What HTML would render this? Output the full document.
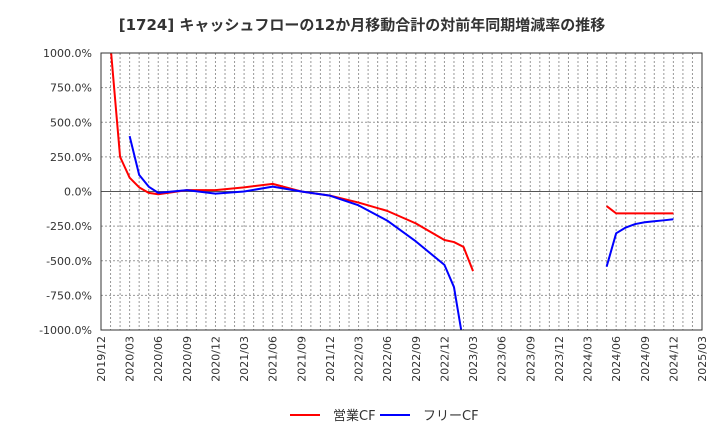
<!DOCTYPE html>
<html><head><meta charset="utf-8"><style>
body{margin:0;background:#fff;font-family:"DejaVu Sans","Noto Sans CJK JP",sans-serif;}
</style></head><body>
<svg width="720" height="440" xmlns="http://www.w3.org/2000/svg" font-family="DejaVu Sans, Noto Sans CJK JP, sans-serif">
<text x="362" y="30" text-anchor="middle" font-size="15" font-weight="bold" fill="#333">[1724]  キャッシュフローの12か月移動合計の対前年同期増減率の推移</text>
<defs><clipPath id="pc"><rect x="101" y="53" width="601" height="277"/></clipPath></defs>
<g id="grid"></g>
<g id="series" clip-path="url(#pc)"></g>
<rect x="101" y="53" width="601" height="277" fill="none" stroke="#333" stroke-width="1"/>
<g id="labels"></g>
<g>
<line x1="290" y1="415" x2="320" y2="415" stroke="#f00" stroke-width="2"/>
<text x="333" y="420" font-size="13" fill="#333">営業CF</text>
<line x1="380" y1="415" x2="410" y2="415" stroke="#00f" stroke-width="2"/>
<text x="423" y="420" font-size="13" fill="#333">フリーCF</text>
</g>
</svg>
<script>
const yTicks=[1000,750,500,250,0,-250,-500,-750,-1000];
const xTickLabels=["2019/12","2020/03","2020/06","2020/09","2020/12","2021/03","2021/06","2021/09","2021/12","2022/03","2022/06","2022/09","2022/12","2023/03","2023/06","2023/09","2023/12","2024/03","2024/06","2024/09","2024/12","2025/03"];
// month index from 2019/12 = 0
const operatingMonths=[1,2,3,4,5,6,9,12,15,18,21,24,27,30,33,36,37,38,39,null,53,54,57,60];
const operatingValues=[1050,250,100,30,-10,-20,10,10,30,55,0,-30,-80,-140,-230,-350,-365,-400,-575,null,-105,-158,-158,-158];
const freeMonths=[3,4,5,6,9,12,15,18,21,24,27,30,33,36,37,38,null,53,54,55,56,57,58,59,60];
const freeValues=[400,120,35,-10,10,-15,0,35,0,-30,-100,-210,-360,-530,-690,-1100,null,-543,-302,-260,-235,-222,-215,-208,-200];
const X0=101,X1=702,Y0=53,Y1=330,NM=63;
const xs=m=>X0+(X1-X0)*m/NM;
const ys=v=>Y1-(v+1000)/2000*(Y1-Y0);
const NS="http://www.w3.org/2000/svg";
const grid=document.getElementById('grid'),labels=document.getElementById('labels'),series=document.getElementById('series');
function mk(t,a,p){const e=document.createElementNS(NS,t);for(const k in a)e.setAttribute(k,a[k]);p.appendChild(e);return e;}
for(let m=1;m<NM;m++){const l=mk('line',{x1:xs(m),x2:xs(m),y1:Y0,y2:Y1,stroke:'#999','stroke-dasharray':'2,2','stroke-width':1},grid);

}
yTicks.forEach(v=>{const l=mk('line',{x1:X0,x2:X1,y1:ys(v),y2:ys(v),stroke:v===0?'#555':'#999','stroke-dasharray':v===0?'':'2,2','stroke-width':1},grid);


const t=mk('text',{x:92,y:ys(v)+4,'text-anchor':'end','font-size':11,fill:'#333'},labels);t.textContent=v.toFixed(1)+'%';

});
xTickLabels.forEach((s,i)=>{const x=xs(i*3)+4,y=Y1+6;const t=mk('text',{x:x,y:y,transform:`rotate(-90 ${x} ${y})`,'text-anchor':'end','font-size':11,fill:'#333'},labels);t.textContent=s;

});
function draw(ms,vs,color,name){let seg=[];const segs=[];ms.forEach((m,i)=>{if(m===null||vs[i]===null){if(seg.length)segs.push(seg);seg=[];}else seg.push(xs(m)+','+ys(vs[i]));});if(seg.length)segs.push(seg);
segs.forEach(s=>{const p=mk('polyline',{points:s.join(' '),fill:'none',stroke:color,'stroke-width':2,'stroke-linejoin':'round'},series);

});}
draw(operatingMonths,operatingValues,'#f00','operating-cf-line');
draw(freeMonths,freeValues,'#00f','free-cf-line');
</script>
</body></html>
